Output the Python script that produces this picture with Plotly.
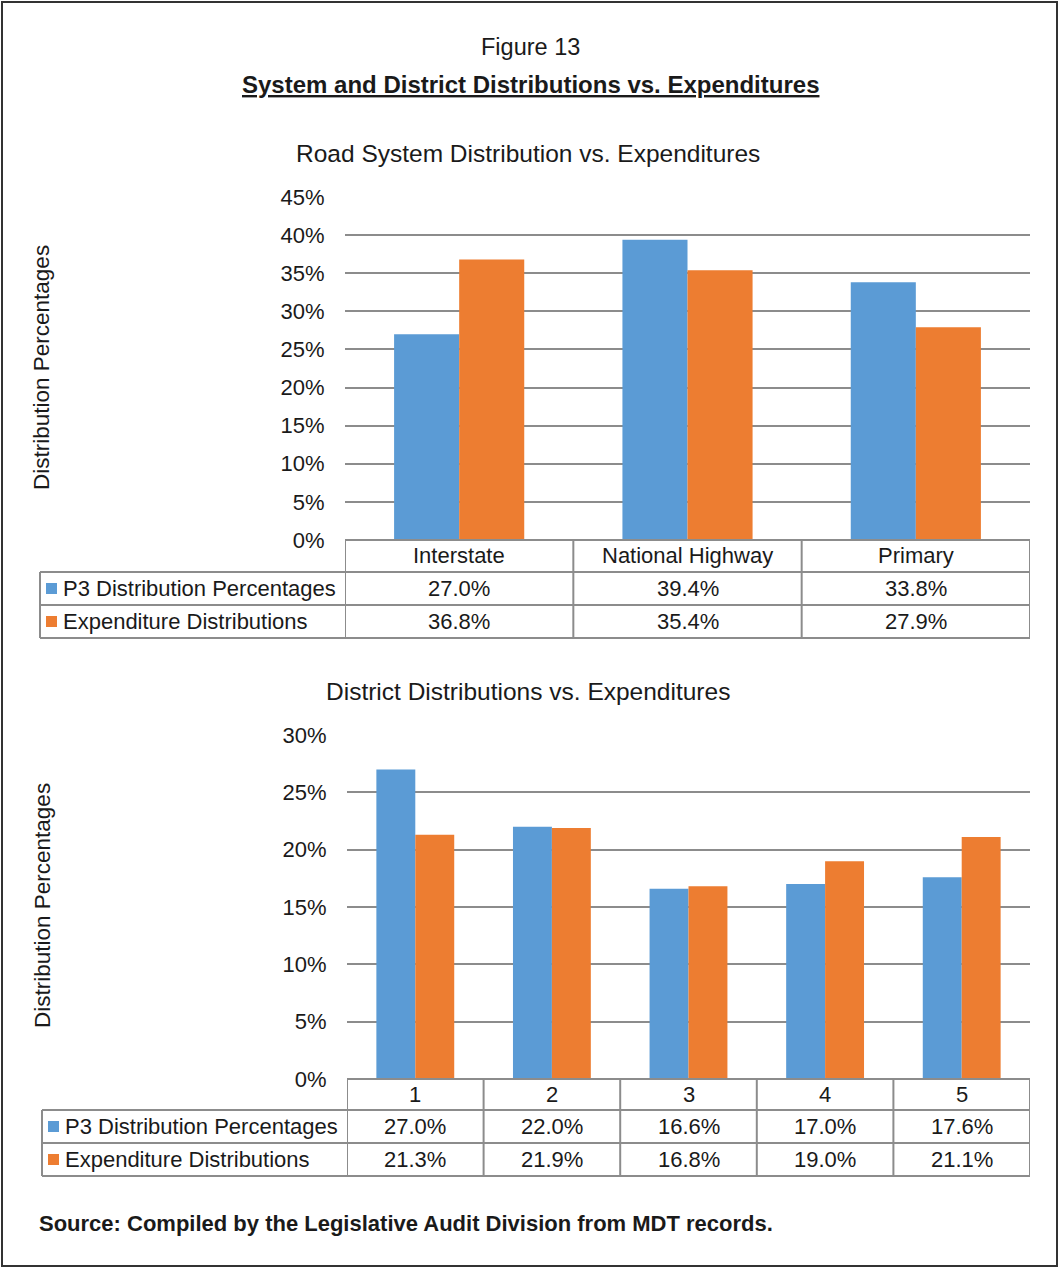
import plotly.graph_objects as go

W, H = 1059, 1268

series_names = ["P3 Distribution Percentages", "Expenditure Distributions"]
colors = ["#5B9BD5", "#ED7D31"]

road_systems = ["Interstate", "National Highway", "Primary"]
road_p3 = [27.0, 39.4, 33.8]
road_exp = [36.8, 35.4, 27.9]

districts = ["1", "2", "3", "4", "5"]
district_p3 = [27.0, 22.0, 16.6, 17.0, 17.6]
district_exp = [21.3, 21.9, 16.8, 19.0, 21.1]

FONT = "Liberation Sans, Arial, sans-serif"
GRID = "#8c8c8c"
TXT = "#1a1a1a"


def px(x):
    return x / W


def py(y):
    return 1 - y / H


def note(text, x, y, size, xref="paper", xanchor="center", **kw):
    return dict(text=text, x=x, y=y, xref=xref, yref="paper", showarrow=False,
                xanchor=xanchor, yanchor="middle",
                font=dict(family=FONT, size=size, color=TXT, **kw.pop("font", {})), **kw)


fig = go.Figure()

# panel settings: axis suffix, categories, values, plot box (pixels), table rows, table left edge
panels = [
    dict(ax="", cats=road_systems, vals=[road_p3, road_exp], x0=345, x1=1030,
         ytop=197, ybot=540, ymax=0.45, rows=[540, 572, 605, 638], left=40,
         title="Road System Distribution vs. Expenditures", title_y=153, ytitle_y=368),
    dict(ax="2", cats=districts, vals=[district_p3, district_exp], x0=347, x1=1030,
         ytop=735, ybot=1079, ymax=0.30, rows=[1079, 1110, 1143, 1176], left=42,
         title="District Distributions vs. Expenditures", title_y=691, ytitle_y=906),
]

shapes = []
annotations = []

for p in panels:
    xa = "x" + p["ax"]
    ya = "y" + p["ax"]
    for name, vals, col in zip(series_names, p["vals"], colors):
        fig.add_trace(go.Bar(
            x=p["cats"], y=[v / 100 for v in vals], name=name,
            marker=dict(color=col, line=dict(width=0)),
            xaxis=xa, yaxis=ya, showlegend=False,
        ))

    fig.update_layout(**{
        "xaxis" + p["ax"]: dict(
            domain=[px(p["x0"]), px(p["x1"])], anchor=ya, showticklabels=False,
            showgrid=False, zeroline=False, showline=False, ticks="", automargin=False,
            type="category", range=[-0.5, len(p["cats"]) - 0.5], fixedrange=True,
        ),
        "yaxis" + p["ax"]: dict(
            domain=[py(p["ybot"]), py(p["ytop"])], anchor=xa, automargin=False,
            range=[0, p["ymax"]], dtick=0.05, tickformat=".0%",
            showgrid=True, gridcolor=GRID, gridwidth=1.5, zeroline=False,
            showline=False, ticks="outside", ticklen=0, ticklabelstandoff=15,
            tickfont=dict(family=FONT, size=22, color=TXT), fixedrange=True,
        ),
    })

    # chart title and y-axis title
    annotations.append(note(p["title"], px(528), py(p["title_y"]), 24.5))
    annotations.append(note("Distribution Percentages", px(42), py(p["ytitle_y"]), 22.5,
                            textangle=-90))

    # data table under the chart
    r = p["rows"]
    line = dict(color=GRID, width=2)
    shapes.append(dict(type="line", xref="paper", yref="paper", x0=px(p["x0"]), x1=px(p["x1"]),
                       y0=py(r[0]), y1=py(r[0]), line=line))
    for yy in r[1:]:
        shapes.append(dict(type="line", xref="paper", yref="paper", x0=px(p["left"]), x1=px(p["x1"]),
                           y0=py(yy), y1=py(yy), line=line))
    # vertical lines at category boundaries
    for i in range(len(p["cats"]) + 1):
        shapes.append(dict(type="line", xref=xa, yref="paper", x0=i - 0.5, x1=i - 0.5,
                           y0=py(r[0]), y1=py(r[3]), line=line))
    shapes.append(dict(type="line", xref="paper", yref="paper", x0=px(p["left"]), x1=px(p["left"]),
                       y0=py(r[1]), y1=py(r[3]), line=line))

    # header labels (placed by category index)
    for i, c in enumerate(p["cats"]):
        annotations.append(note(c, i, py((r[0] + r[1]) / 2), 22, xref=xa))
    # rows
    for k, (name, vals, col) in enumerate(zip(series_names, p["vals"], colors)):
        yc = (r[k + 1] + r[k + 2]) / 2
        shapes.append(dict(type="rect", xref="paper", yref="paper",
                           x0=px(p["left"] + 6), x1=px(p["left"] + 17),
                           y0=py(yc + 5.5), y1=py(yc - 5.5),
                           fillcolor=col, line=dict(width=0)))
        annotations.append(note(name, px(p["left"] + 21), py(yc), 22, xanchor="left"))
        for i, v in enumerate(vals):
            annotations.append(note(f"{v:.1f}%", i, py(yc), 22, xref=xa))

# figure heading and source
annotations.append(note("Figure 13", px(530), py(47), 23.5))
annotations.append(note("<b>System and District Distributions vs. Expenditures</b>",
                        px(530), py(84), 24, font=dict(lineposition="under")))
annotations.append(note("<b>Source: Compiled by the Legislative Audit Division from MDT records.</b>",
                        px(37), py(1223), 22, xanchor="left"))

# outer frame
shapes.append(dict(type="rect", xref="paper", yref="paper", x0=px(2), x1=px(1057),
                   y0=py(1266), y1=py(2), line=dict(color="#333333", width=2)))

fig.update_layout(
    width=W, height=H, margin=dict(l=0, r=0, t=0, b=0, autoexpand=False),
    paper_bgcolor="white", plot_bgcolor="white",
    barmode="group", bargap=0.43, bargroupgap=0,
    shapes=shapes, annotations=annotations,
    font=dict(family=FONT, color=TXT),
)

# drop the default page margin so the figure fills the window exactly
fig.write_html("out.html", config={"displayModeBar": False},
               post_script="document.body.style.margin = '0';")
